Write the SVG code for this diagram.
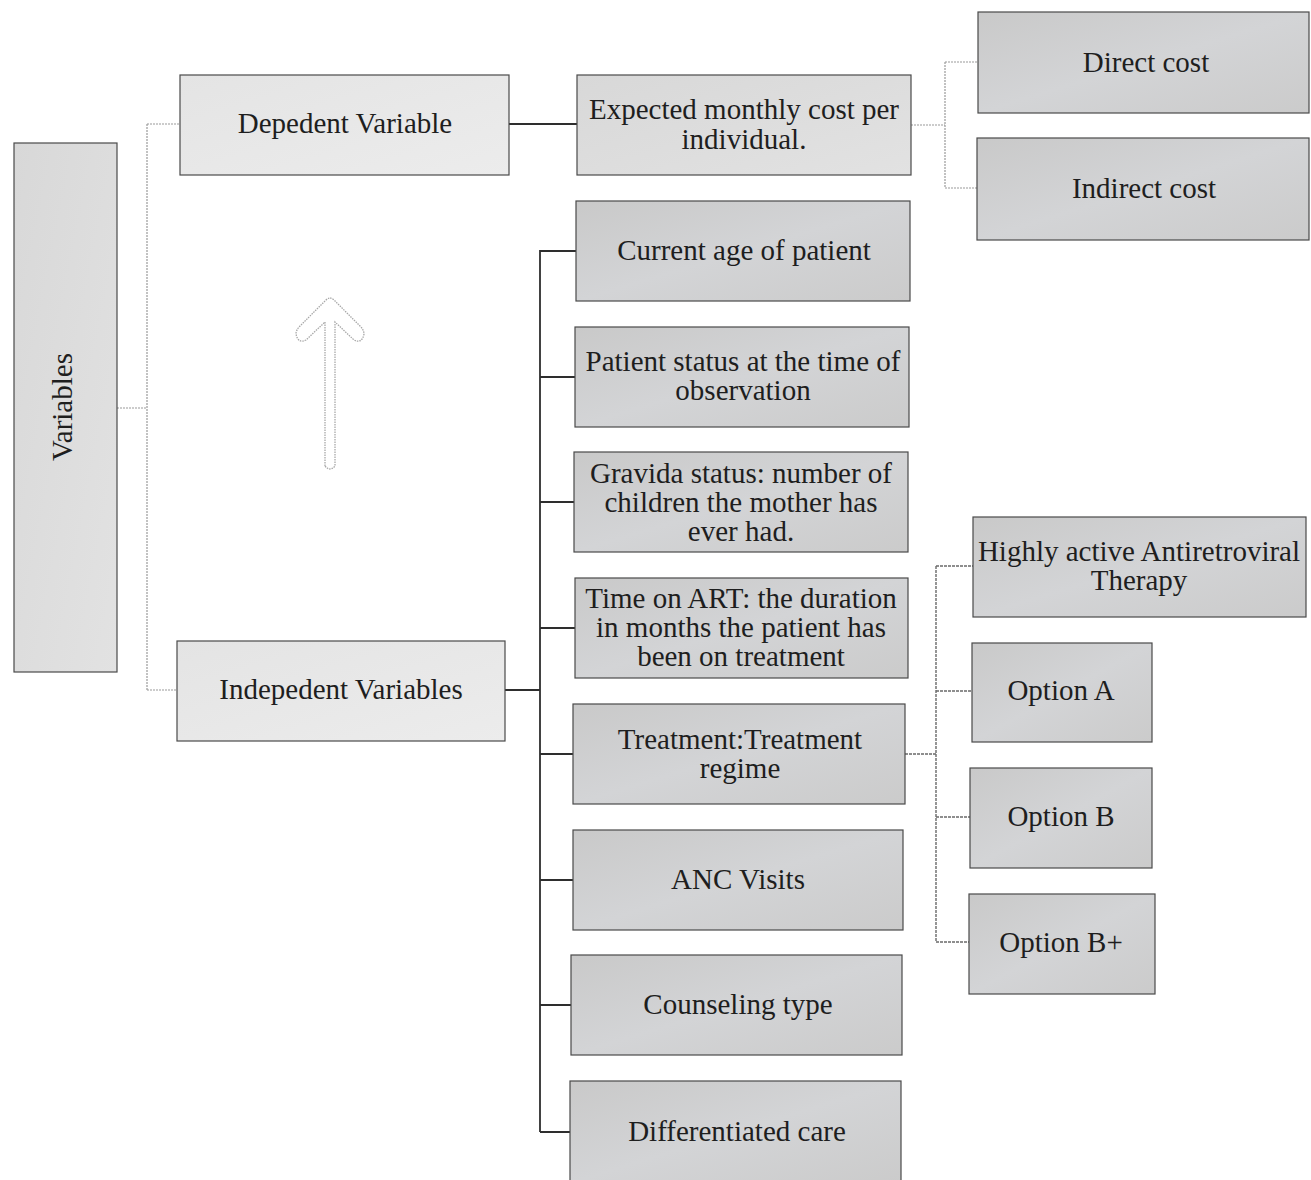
<svg xmlns="http://www.w3.org/2000/svg" width="1311" height="1180" viewBox="0 0 1311 1180">
<style>
  .box { stroke: #4a4a4a; stroke-width: 1.2; }
  .light { fill: url(#gLight); }
  .mid { fill: url(#gMid); }
  .dark { fill: url(#gDark); }
  .t { font-family: "Liberation Serif", "DejaVu Serif", serif; font-size: 29px; fill: #1e1e1e; text-anchor: middle; }
  .c-light { fill: none; stroke: #9a9a9a; stroke-width: 1.2; stroke-dasharray: 2 1; }
  .c-dark { fill: none; stroke: #2e2e2e; stroke-width: 1.8; }
  .c-mid { fill: none; stroke: #6a6a6a; stroke-width: 1.4; stroke-dasharray: 3 1; }
</style>
<defs>
  <linearGradient id="gLight" x1="0" y1="0" x2="1" y2="1">
    <stop offset="0" stop-color="#e4e4e4"/>
    <stop offset="1" stop-color="#ececec"/>
  </linearGradient>
  <linearGradient id="gMid" x1="0" y1="0" x2="1" y2="1">
    <stop offset="0" stop-color="#d8d8d8"/>
    <stop offset="1" stop-color="#e2e2e2"/>
  </linearGradient>
  <linearGradient id="gDark" x1="0" y1="0" x2="1" y2="1">
    <stop offset="0" stop-color="#c9c9c9"/>
    <stop offset="0.5" stop-color="#d3d4d6"/>
    <stop offset="1" stop-color="#cbcbcb"/>
  </linearGradient>
</defs>
<rect width="1311" height="1180" fill="#ffffff"/>

<g id="connectors">
  <path class="c-light" d="M117 408 H147 M147 124 V690 M147 124 H180 M147 690 H177"/>
  <path class="c-dark" d="M509 124 H577"/>
  <path class="c-light" d="M911 125 H945 M945 62 V188 M945 62 H978 M945 188 H977"/>
  <path class="c-dark" d="M505 690 H540 M540 250 V1132 M540 251 H576 M540 377 H575 M540 502 H574 M540 628 H575 M540 754 H573 M540 880 H573 M540 1005 H571 M540 1132 H570"/>
  <path class="c-mid" d="M905 754 H936 M936 566 V942 M936 566 H973 M936 691 H972 M936 817 H970 M936 942 H969"/>
</g>

<g id="arrow">
  <path d="M325 466 L325 322 L306 340 Q298 344 296 334 Q296 330 300 326 L326 300 Q330 296 334 300 L360 326 Q364 330 364 334 Q362 344 354 340 L335 322 L335 466 Q330 472 325 466 Z" fill="#ffffff" stroke="#a8a8a8" stroke-width="1.3" stroke-dasharray="1.5 1"/>
</g>

<g id="n-variables">
  <rect class="box mid" x="14" y="143" width="103" height="529"/>
  <text class="t" transform="translate(72 407) rotate(-90)" font-size="30">Variables</text>
</g>

<g id="n-dependent">
  <rect class="box light" x="180" y="75" width="329" height="100"/>
  <text class="t" x="345" y="133">Depedent Variable</text>
</g>

<g id="n-independent">
  <rect class="box light" x="177" y="641" width="328" height="100"/>
  <text class="t" x="341" y="699">Indepedent Variables</text>
</g>

<g id="n-expected">
  <rect class="box mid" x="577" y="75" width="334" height="100"/>
  <text class="t" x="744" y="119">Expected monthly cost per</text>
  <text class="t" x="744" y="149">individual.</text>
</g>

<g id="n-direct">
  <rect class="box dark" x="978" y="12" width="331" height="101"/>
  <text class="t" x="1146" y="72">Direct cost</text>
</g>

<g id="n-indirect">
  <rect class="box dark" x="977" y="138" width="332" height="102"/>
  <text class="t" x="1144" y="198">Indirect cost</text>
</g>

<g id="n-age">
  <rect class="box dark" x="576" y="201" width="334" height="100"/>
  <text class="t" x="744" y="260">Current age of patient</text>
</g>

<g id="n-status">
  <rect class="box dark" x="575" y="327" width="334" height="100"/>
  <text class="t" x="743" y="371">Patient status at the time of</text>
  <text class="t" x="743" y="400">observation</text>
</g>

<g id="n-gravida">
  <rect class="box dark" x="574" y="452" width="334" height="100"/>
  <text class="t" x="741" y="483">Gravida status: number of</text>
  <text class="t" x="741" y="512">children the mother has</text>
  <text class="t" x="741" y="541">ever had.</text>
</g>

<g id="n-time">
  <rect class="box dark" x="575" y="578" width="333" height="100"/>
  <text class="t" x="741" y="608">Time on ART: the duration</text>
  <text class="t" x="741" y="637">in months the patient has</text>
  <text class="t" x="741" y="666">been on treatment</text>
</g>

<g id="n-treatment">
  <rect class="box dark" x="573" y="704" width="332" height="100"/>
  <text class="t" x="740" y="749">Treatment:Treatment</text>
  <text class="t" x="740" y="778">regime</text>
</g>

<g id="n-anc">
  <rect class="box dark" x="573" y="830" width="330" height="100"/>
  <text class="t" x="738" y="889">ANC Visits</text>
</g>

<g id="n-counseling">
  <rect class="box dark" x="571" y="955" width="331" height="100"/>
  <text class="t" x="738" y="1014">Counseling type</text>
</g>

<g id="n-differentiated">
  <rect class="box dark" x="570" y="1081" width="331" height="102"/>
  <text class="t" x="737" y="1141">Differentiated care</text>
</g>

<g id="n-haart">
  <rect class="box dark" x="973" y="517" width="333" height="100"/>
  <text class="t" x="1139" y="561">Highly active Antiretroviral</text>
  <text class="t" x="1139" y="590">Therapy</text>
</g>

<g id="n-optiona">
  <rect class="box dark" x="972" y="643" width="180" height="99"/>
  <text class="t" x="1061" y="700">Option A</text>
</g>

<g id="n-optionb">
  <rect class="box dark" x="970" y="768" width="182" height="100"/>
  <text class="t" x="1061" y="826">Option B</text>
</g>

<g id="n-optionbplus">
  <rect class="box dark" x="969" y="894" width="186" height="100"/>
  <text class="t" x="1061" y="952">Option B+</text>
</g>
</svg>
